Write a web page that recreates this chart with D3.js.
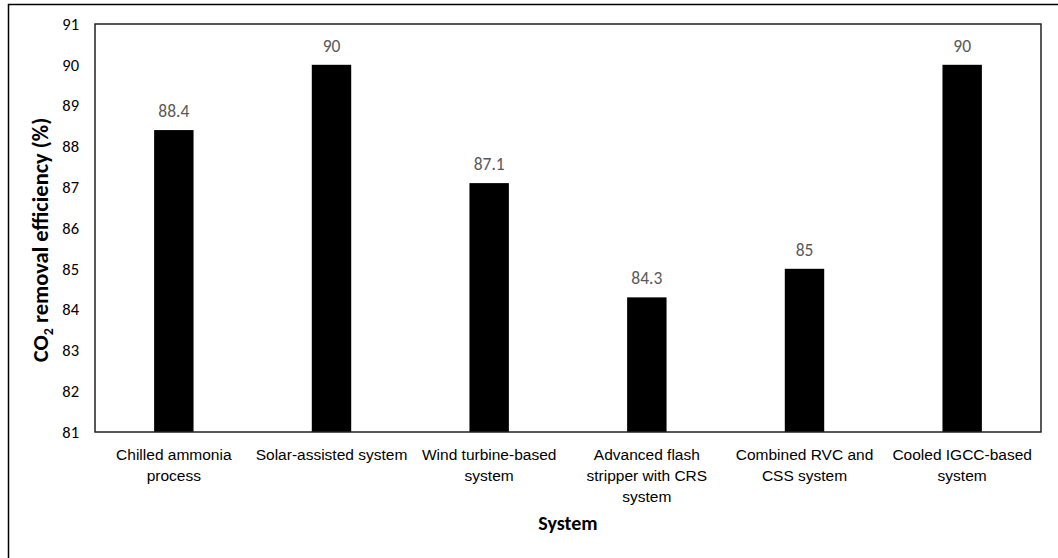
<!DOCTYPE html>
<html>
<head>
<meta charset="utf-8">
<script src="https://cdn.jsdelivr.net/npm/d3@7"></script>
<style>
  html, body { margin: 0; padding: 0; background: #fff; }
  svg { display: block; font-family: Carlito, Lato, "Open Sans", sans-serif; }
</style>
</head>
<body>
<svg id="chart" width="1058" height="558"></svg>
<script>
// CO2 removal efficiency by capture system
const categories = [
  "Chilled ammonia process",
  "Solar-assisted system",
  "Wind turbine-based system",
  "Advanced flash stripper with CRS system",
  "Combined RVC and CSS system",
  "Cooled IGCC-based system"
];
const tickLabelLines = [
  ["Chilled ammonia", "process"],
  ["Solar-assisted system"],
  ["Wind turbine-based", "system"],
  ["Advanced flash", "stripper with CRS", "system"],
  ["Combined RVC and", "CSS system"],
  ["Cooled IGCC-based", "system"]
];
const efficiency = [88.4, 90, 87.1, 84.3, 85, 90];
const yTicks = [81, 82, 83, 84, 85, 86, 87, 88, 89, 90, 91];

const svg = d3.select("#chart");
const plot = { left: 95, top: 24, right: 1041, bottom: 432 };

// outer chart frame
svg.append("rect")
  .attr("x", 8.5).attr("y", 4.5)
  .attr("width", 1080).attr("height", 600)
  .attr("fill", "none").attr("stroke", "#000").attr("stroke-width", 1.5);

const x = d3.scaleBand()
  .domain(categories)
  .range([plot.left, plot.right])
  .paddingInner(0.75)
  .paddingOuter(0.375);

const y = d3.scaleLinear()
  .domain([81, 91])
  .range([plot.bottom, plot.top]);

// bars
svg.append("g").selectAll("rect")
  .data(categories)
  .join("rect")
  .attr("x", d => x(d))
  .attr("y", (d, i) => y(efficiency[i]))
  .attr("width", x.bandwidth())
  .attr("height", (d, i) => y(81) - y(efficiency[i]))
  .attr("fill", "#000");

// plot area border
svg.append("rect")
  .attr("x", plot.left).attr("y", plot.top)
  .attr("width", plot.right - plot.left).attr("height", plot.bottom - plot.top)
  .attr("fill", "none").attr("stroke", "#222").attr("stroke-width", 1.5);

// y axis labels
const yAxis = d3.axisLeft(y).tickValues(yTicks).tickSize(0).tickPadding(16)
  .tickFormat(d3.format("d"));
svg.append("g")
  .attr("transform", `translate(${plot.left},0)`)
  .call(yAxis)
  .call(g => g.select(".domain").remove())
  .selectAll("text")
  .attr("font-family", "Carlito, Lato, 'Open Sans', sans-serif")
  .attr("font-size", 16.5)
  .attr("fill", "#000");

// x axis labels, wrapped over several lines
const xAxis = d3.axisBottom(x).tickSize(0).tickFormat("");
const xg = svg.append("g")
  .attr("transform", `translate(0,${plot.bottom})`)
  .call(xAxis);
xg.select(".domain").remove();
xg.selectAll(".tick").each(function(d, i) {
  const t = d3.select(this).append("text")
    .attr("text-anchor", "middle")
    .attr("fill", "#000")
    .attr("font-size", 15.5)
    .attr("y", 28);
  tickLabelLines[i].forEach((line, j) => {
    t.append("tspan").attr("x", 0).attr("dy", j === 0 ? 0 : 21).text(line);
  });
});

// value labels
svg.append("g").selectAll("text")
  .data(categories)
  .join("text")
  .attr("x", d => x(d) + x.bandwidth() / 2)
  .attr("y", (d, i) => y(efficiency[i]) - 13)
  .attr("text-anchor", "middle")
  .attr("font-size", 17.5)
  .attr("fill", "#595959")
  .text((d, i) => efficiency[i]);

// axis titles
svg.append("text")
  .attr("x", (plot.left + plot.right) / 2)
  .attr("y", 530)
  .attr("text-anchor", "middle")
  .attr("font-size", 20)
  .attr("font-weight", "bold")
  .text("System");

const yt = svg.append("text")
  .attr("transform", `translate(48,240) rotate(-90)`)
  .attr("text-anchor", "middle")
  .attr("font-size", 22.5)
  .attr("font-weight", "bold");
yt.append("tspan").text("CO");
yt.append("tspan").attr("font-size", 14).attr("dy", 5).text("2");
yt.append("tspan").attr("dy", -5).text(" removal efficiency (%)");
</script>
</body>
</html>
